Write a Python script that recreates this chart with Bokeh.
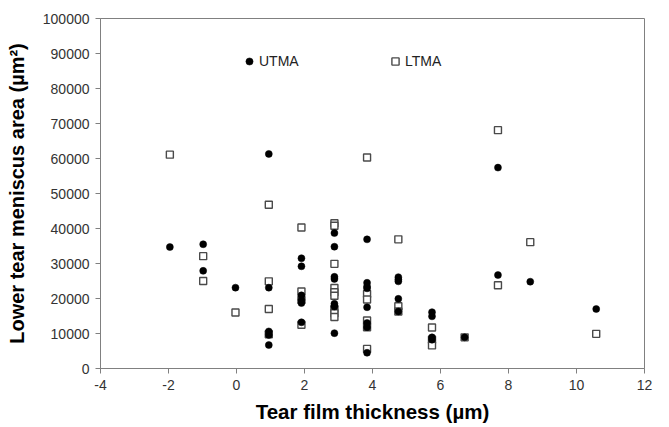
from bokeh.plotting import figure
from bokeh.models import Legend, LegendItem, SingleIntervalTicker, FixedTicker, BasicTickFormatter, CustomJSTickFormatter
from bokeh.embed import file_html
from bokeh.resources import INLINE

# UTMA (filled circles)
utma_x = [-1.96, -0.98, -0.98, -0.03, 0.95, 0.95, 0.95, 0.95, 0.95,
          1.91, 1.91, 1.91, 1.91, 1.91, 1.91,
          2.88, 2.88, 2.88, 2.88, 2.88, 2.88, 2.88,
          3.84, 3.84, 3.84, 3.84, 3.84, 3.84, 3.84, 3.84,
          4.76, 4.76, 4.76, 4.76, 4.76,
          5.75, 5.75, 5.75, 5.75,
          6.71, 7.69, 7.69, 8.64, 10.58]
utma_y = [34700, 35500, 27900, 23100, 61300, 23100, 10600, 9600, 6700,
          31500, 29200, 20900, 19600, 18700, 13200,
          38700, 34800, 26200, 25600, 18500, 17700, 10100,
          36900, 24500, 23400, 22900, 17500, 13000, 11800, 4500,
          26100, 25400, 24900, 19900, 16300,
          16100, 14900, 8900, 8200,
          8900, 57400, 26700, 24800, 17000]

# LTMA (open squares)
ltma_x = [-1.96, -0.98, -0.98, -0.03, 0.95, 0.95, 0.95, 0.95,
          1.91, 1.91, 1.91, 1.91,
          2.88, 2.88, 2.88, 2.88, 2.88, 2.88, 2.88, 2.88, 2.88,
          3.84, 3.84, 3.84, 3.84, 3.84, 3.84,
          4.76, 4.76, 4.76,
          5.75, 5.75, 5.75,
          6.71, 7.69, 7.69, 8.64, 10.58]
ltma_y = [61100, 32100, 25000, 16000, 46800, 24900, 17000, 9800,
          40300, 22000, 19600, 12500,
          41500, 40800, 29900, 23000, 21800, 20800, 17000, 15800, 14700,
          60300, 21300, 19700, 13700, 11800, 5600,
          36900, 17800, 16300,
          11700, 8200, 6600,
          8900, 68100, 23800, 36100, 9900]

x_ticks = [-4, -2, 0, 2, 4, 6, 8, 10, 12]
series_names = ["UTMA", "LTMA"]

FONT = "Liberation Sans"

p = figure(width=669, height=427, x_range=(-4, 12), y_range=(0, 100000),
           output_backend="svg", toolbar_location=None,
           min_border_left=100, min_border_right=25, min_border_top=18, min_border_bottom=59)

p.background_fill_color = "white"
p.border_fill_color = "white"
p.outline_line_color = "#808080"
p.outline_line_width = 1
p.xgrid.visible = False
p.ygrid.visible = False

sq = p.scatter(x=ltma_x, y=ltma_y, marker="square", size=7, fill_color="white",
               line_color="#4a4a4a", line_width=1.4)
ci = p.scatter(x=utma_x, y=utma_y, marker="circle", size=7, fill_color="black",
               line_color="black", line_width=0.5)

for ax in (p.xaxis[0], p.yaxis[0]):
    ax.axis_line_color = "#808080"
    ax.major_tick_line_color = "#808080"
    ax.minor_tick_line_color = None
    ax.major_tick_out = 5
    ax.major_tick_in = 0
    ax.major_label_text_font = FONT
    ax.major_label_text_font_size = "14px"
    ax.major_label_text_color = "#333333"
    ax.axis_label_text_font = FONT
    ax.axis_label_text_font_style = "bold"
    ax.axis_label_text_color = "black"

p.xaxis[0].ticker = FixedTicker(ticks=x_ticks)
p.xaxis[0].formatter = CustomJSTickFormatter(code="return tick.toString();")
p.xaxis[0].axis_label = "Tear film thickness (µm)"
p.xaxis[0].axis_label_text_font_size = "20.5px"
p.xaxis[0].axis_label_standoff = 7
p.xaxis[0].major_label_standoff = 6

p.yaxis[0].ticker = SingleIntervalTicker(interval=10000)
p.yaxis[0].formatter = BasicTickFormatter(use_scientific=False)
p.yaxis[0].axis_label = "Lower tear meniscus area (µm²)"
p.yaxis[0].axis_label_text_font_size = "20px"
p.yaxis[0].axis_label_standoff = 12
p.yaxis[0].major_label_standoff = 6

def make_legend(name, rend, loc):
    lg = Legend(items=[LegendItem(label=name, renderers=[rend])], location=loc,
                orientation="horizontal", padding=0, margin=0, spacing=0,
                glyph_width=18, glyph_height=18, label_standoff=1,
                label_text_font=FONT, label_text_font_size="14px",
                label_text_color="#222222", label_height=14,
                border_line_color=None, background_fill_alpha=0)
    p.add_layout(lg)

make_legend(series_names[0], ci, (140, 298))
make_legend(series_names[1], sq, (286, 298))

open("out.html", "w").write(file_html(p, INLINE))
